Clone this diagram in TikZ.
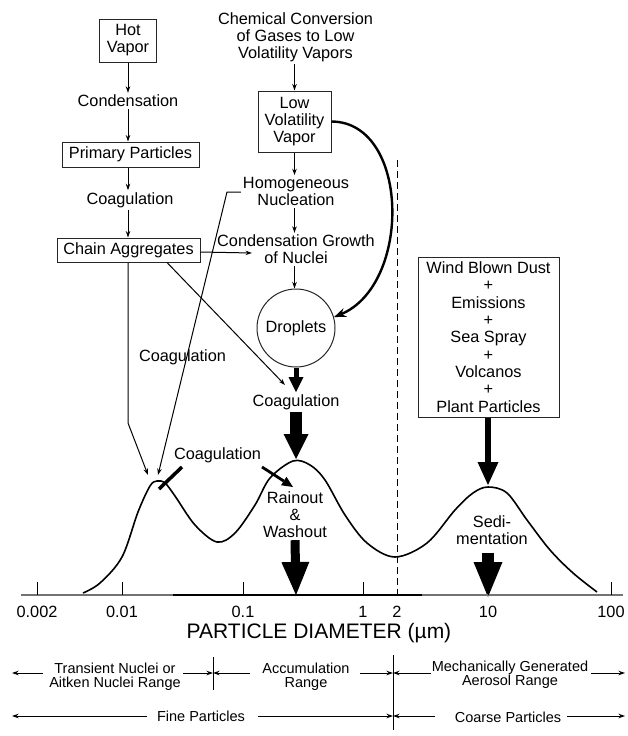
\documentclass[tikz,border=0pt]{standalone}
\usepackage{fontspec}
\setmainfont{Liberation Sans}
\usetikzlibrary{arrows.meta}
\begin{document}
\begin{tikzpicture}[x=1pt,y=-1pt,
  lbl/.style={font=\fontsize{16.3}{17}\selectfont, align=center, inner sep=2pt},
  sml/.style={font=\fontsize{14.5}{13.5}\selectfont, align=center, inner sep=0pt},
  box/.style={lbl, draw=black!85, line width=1pt, inner sep=0pt},
  thinarr/.style={line width=1pt, -{Stealth[length=6.5pt,width=4.5pt]}},
  midarr/.style={line width=2.8pt, -{Triangle[length=11pt,width=10pt,line width=0pt]}},
  bigarr/.style n args={3}{line width=#1, -{Triangle[length=#2,width=#3,line width=0pt]}},
]
\useasboundingbox (0,0) rectangle (627,736);

% ---------- left column ----------
\node[box, minimum width=57pt, minimum height=43pt] (hot) at (128,40.5) {Hot\\Vapor};
\node[lbl] (cond1) at (128,101) {Condensation};
\node[box, minimum width=137pt, minimum height=25pt] (prim) at (130.5,154.5) {Primary Particles};
\node[lbl] (coag1) at (130,200) {Coagulation};
\node[box, minimum width=143pt, minimum height=24pt] (chain) at (128.5,250) {Chain Aggregates};

% ---------- middle column ----------
\node[lbl] (chem) at (295.5,37.5) {Chemical Conversion\\of Gases to Low\\Volatility Vapors};
\node[box, minimum width=73pt, minimum height=61pt] (lowv) at (294.5,121.5) {Low\\Volatility\\Vapor};
\node[lbl] (homog) at (296,191.5) {Homogeneous\\Nucleation};
\node[lbl] (cgrow) at (296,249.5) {Condensation Growth\\of Nuclei};
\node[lbl, draw=black!85, line width=1pt, circle, minimum size=78pt, inner sep=0pt] (drop) at (296,328) {Droplets};
\node[lbl] (coagL) at (182.5,357) {Coagulation};
\node[lbl] (coagD) at (296,402) {Coagulation};
\node[lbl] (coagM) at (217.5,455) {Coagulation};
\node[lbl] (rain) at (295,515) {Rainout\\\&\\Washout};
\node[lbl] (sedi) at (492,530) {Sedi-\\mentation};

% ---------- right box ----------
\node[box, font=\fontsize{16.3}{17.3}\selectfont, minimum width=141pt, minimum height=160pt] (wind) at (488.5,337)
  {Wind Blown Dust\\+\\Emissions\\+\\Sea Spray\\+\\Volcanos\\+\\Plant Particles};

% ---------- coordinates ----------
\coordinate (hk) at (227,192);
\coordinate (p1b) at (158,475);
\coordinate (ck) at (128,423);
\coordinate (p1a) at (148,475);
\coordinate (cg) at (252,253);
\coordinate (cd) at (285,385);
\coordinate (pk2) at (296,459);
\coordinate (s1) at (182,467);
\coordinate (s2) at (159,489);
\coordinate (m1) at (262,467);
\coordinate (m2) at (293,487);
\coordinate (ax2) at (296,595);
\coordinate (ax10) at (488,597);
\coordinate (pk3) at (488,485);

% ---------- thin connectors ----------
\draw[thinarr] (hot.south -| cond1) -- (cond1.north);
\draw[thinarr] (cond1.south) -- (cond1.south |- prim.north);
\draw[thinarr] (prim.south -| cond1) -- (cond1 |- coag1.north);
\draw[thinarr] (coag1.south -| cond1) -- (cond1 |- chain.north);

\draw[thinarr] (chem.south -| lowv) -- (lowv.north);
\draw[thinarr] (lowv.south) -- (lowv.south |- homog.north);
\draw[thinarr] (lowv.south |- homog.south) -- (lowv.south |- cgrow.north);
\draw[thinarr] (lowv.south |- cgrow.south) -- (lowv.south |- drop.north);

\draw[thinarr] (homog.west |- hk) -- (hk) -- (p1b);
\draw[thinarr] (chain.south -| ck) -- (ck) -- (p1a);
\draw[thinarr] ([yshift=-2pt]chain.east) -- (cg);
\draw[thinarr] ([xshift=38.5pt]chain.south) -- (cd);

% ---------- thick connectors ----------
\draw[line width=2.4pt, -{Stealth[length=12pt,width=9pt]}]
  (lowv.east) .. controls (410,122) and (412,285) .. (drop.16);
\draw[bigarr={5pt}{15pt}{15pt}] (drop.south) -- (coagD.north);
\draw[bigarr={12pt}{25pt}{25pt}] (coagD.south) -- (pk2);
\draw[line width=3.5pt] (s1) -- (s2);
\draw[midarr] (m1) -- (m2);
\draw[bigarr={9pt}{33pt}{28pt}] (rain.south) -- (ax2);
\draw[bigarr={12pt}{35pt}{29pt}, shorten <=6pt] (sedi.south -| ax10) -- (ax10);
\draw[bigarr={6pt}{23pt}{21pt}] (wind.south -| pk3) -- (pk3);

% ---------- dashed divider ----------
\draw[line width=1pt, dash pattern=on 7pt off 4pt] (397,160) -- (397,595);

% ---------- size distribution curve ----------
\draw[line width=1.6pt, line join=round] plot[smooth, tension=0.55] coordinates {
  (83,593) (100,583) (122,557) (138,512) (150,486) (157,481) (165,483) (175,496)
  (195,525) (217,542) (235,533) (255,505) (270,478) (293,461) (310,465) (325,480)
  (345,515) (367,543) (395,557) (427,543) (455,510) (473,493) (488,487) (507,493)
  (527,520) (550,550) (573,573) (597,592)};

% ---------- axis ----------
\draw[black!55, line width=1.3pt] (21,595) -- (623,595);
\draw[line width=1.3pt] (173,595) -- (422,595);
\foreach \x/\t/\n in {37/0.002/a,122/0.01/b,243/0.1/c,363/1/d,488/10/f,611/100/g}{
  \draw[line width=1pt] (\x,595) -- (\x,582);
  \node[lbl] (tick\n) at (\x,612) {\t};
}
\node[lbl] (ticke) at (397,612) {2};
\node[font=\fontsize{21}{24}\selectfont, inner sep=0pt] (xlab) at (319,633) {PARTICLE DIAMETER (µm)};

% ---------- ranges ----------
\draw[line width=1pt] (213,657) -- (213,690);
\draw[line width=1pt] (393,655) -- (393,730);

\node[sml] (tn) at (115,676.5) {Transient Nuclei or\\Aitken Nuclei Range};
\node[sml] (acc) at (306,676.5) {Accumulation\\Range};
\node[sml] (mech) at (510,674.5) {Mechanically Generated\\Aerosol Range};
\node[sml] (fine) at (201,716) {Fine Particles};
\node[sml] (coarse) at (508,717) {Coarse Particles};

\coordinate (r1L) at (12,673);
\coordinate (r1a) at (213,673);
\coordinate (r1b) at (393,673);
\coordinate (r1R) at (625,673);
\coordinate (r2L) at (12,716);
\coordinate (r2a) at (393,716);
\coordinate (r2R) at (625,716);

\draw[thinarr, shorten <=6.5pt] (tn.west |- r1L) -- (r1L);
\draw[thinarr, shorten <=2.5pt] (tn.east |- r1a) -- (r1a);
\draw[thinarr, shorten <=12.5pt] (acc.west |- r1a) -- (r1a);
\draw[thinarr, shorten <=10.5pt] (acc.east |- r1b) -- (r1b);
\draw[thinarr, shorten <=1pt] (mech.west |- r1b) -- (r1b);
\draw[thinarr, shorten <=3pt] (mech.east |- r1R) -- (r1R);

\draw[thinarr, shorten <=10pt] (fine.west |- r2L) -- (r2L);
\draw[thinarr, shorten <=13pt] (fine.east |- r2a) -- (r2a);
\draw[thinarr, shorten <=20pt] (coarse.west |- r2a) -- (r2a);
\draw[thinarr, shorten <=6pt] (coarse.east |- r2R) -- (r2R);
\end{tikzpicture}
\end{document}
